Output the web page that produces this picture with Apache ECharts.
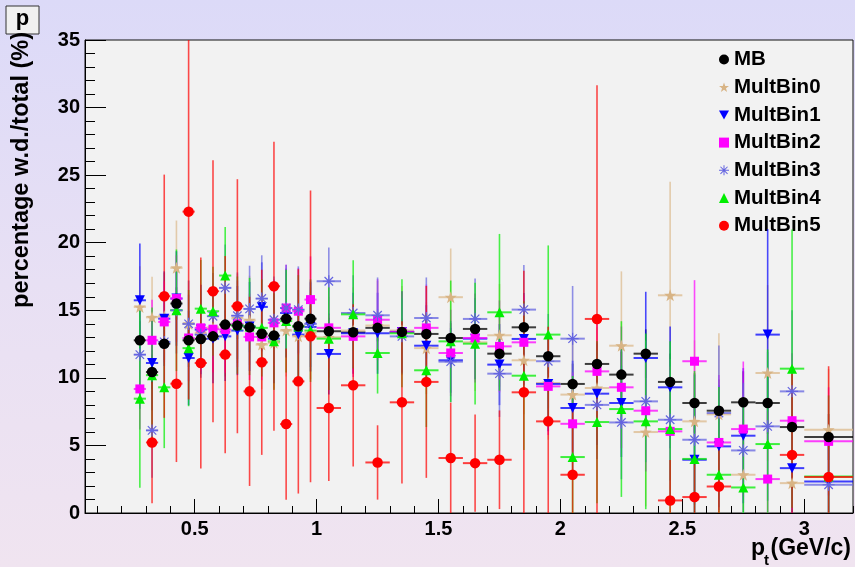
<!DOCTYPE html>
<html>
<head>
<meta charset="utf-8">
<script src="https://cdn.jsdelivr.net/npm/echarts@6/dist/echarts.min.js"></script>
<style>
html,body{margin:0;padding:0;}
body{background:linear-gradient(to bottom,#dcdaf8 0%,#e8e0f4 50%,#f0e4f0 100%);}
#c{width:855px;height:567px;}
</style>
</head>
<body>
<div id="c"></div>
<script>
// bin centres and edges (GeV/c)
const ptCenters = [0.275,0.325,0.375,0.425,0.475,0.525,0.575,0.625,0.675,0.725,0.775,0.825,0.875,0.925,0.975,
  1.05,1.15,1.25,1.35,1.45,1.55,1.65,1.75,1.85,1.95,2.05,2.15,2.25,2.35,2.45,2.55,2.65,2.75,2.85,2.95,3.1];
const ptLow = [0.25,0.3,0.35,0.4,0.45,0.5,0.55,0.6,0.65,0.7,0.75,0.8,0.85,0.9,0.95,
  1.0,1.1,1.2,1.3,1.4,1.5,1.6,1.7,1.8,1.9,2.0,2.1,2.2,2.3,2.4,2.5,2.6,2.7,2.8,2.9,3.0];
const ptHigh = [0.3,0.35,0.4,0.45,0.5,0.55,0.6,0.65,0.7,0.75,0.8,0.85,0.9,0.95,1.0,
  1.1,1.2,1.3,1.4,1.5,1.6,1.7,1.8,1.9,2.0,2.1,2.2,2.3,2.4,2.5,2.6,2.7,2.8,2.9,3.0,3.2];

const mbVals = [12.78,10.43,12.53,15.5,12.78,12.88,13.07,13.94,13.87,13.74,13.27,13.13,14.38,13.82,14.38,
  13.45,13.37,13.7,13.4,13.25,12.95,13.62,11.79,13.74,11.6,9.55,11.03,10.24,11.79,9.7,8.14,7.57,8.19,8.14,6.36,5.62];
const mbErr = [1.4,1.3,1.2,1.2,1.1,1.0,1.0,1.0,1.0,1.0,1.0,1.0,1.0,1.0,1.0,
  1.0,1.0,1.0,1.0,1.1,1.1,1.1,1.2,1.2,1.3,1.5,1.5,1.7,1.8,2.1,2.2,2.3,2.3,2.3,2.4,1.7];

const mb0Vals = [15.25,14.48,14.56,18.14,14.0,13.3,13.7,13.4,14.4,14.26,12.46,12.6,13.5,13.07,13.3,
  13.0,13.5,13.87,13.5,12.2,15.97,12.63,13.15,11.3,9.62,8.76,9.25,12.38,5.99,16.11,6.78,7.3,2.83,10.36,2.21,6.16];
const mb0Err = [3.0,3.0,3.2,3.5,3.2,3.3,3.3,3.3,3.3,3.3,3.3,3.4,3.4,3.4,3.4,
  3.0,3.2,3.3,3.3,3.4,3.6,3.6,3.8,4.0,4.2,4.2,4.5,5.5,5.5,8.4,6.0,6.0,6.0,6.5,6.5,4.5];

const mb1Vals = [15.74,11.1,14.38,15.87,11.47,13.57,12.9,13.07,13.5,13.8,15.25,12.9,14.8,13.2,13.77,
  11.77,13.3,13.3,13.4,12.38,11.3,12.9,10.98,12.88,9.55,7.77,8.83,8.14,11.47,9.3,3.94,4.93,5.72,13.2,3.32,2.33];
const mb1Err = [4.2,3.5,3.5,3.5,3.5,3.3,3.3,3.3,3.3,3.3,3.3,3.3,3.3,3.3,3.3,
  3.0,3.0,3.0,3.0,3.0,2.4,3.0,3.0,3.4,3.5,3.5,3.8,4.0,4.9,4.5,4.5,4.5,5.0,7.8,5.5,3.0];

const mb2Vals = [9.18,12.78,14.14,15.87,12.95,13.7,13.6,13.57,14.0,13.03,13.03,14.07,15.17,14.93,15.79,
  13.7,13.07,14.3,13.4,13.7,11.84,12.95,12.33,12.63,9.37,6.6,10.48,9.3,7.57,6.04,11.23,5.22,6.21,2.51,6.83,5.3];
const mb2Err = [3.0,3.0,3.0,3.2,3.2,3.2,3.2,3.2,3.2,3.2,3.2,3.2,3.2,3.2,3.2,
  3.0,3.0,3.0,3.0,3.2,3.2,3.3,3.4,3.5,3.6,3.8,4.0,4.5,4.5,4.8,6.0,5.0,5.0,5.0,5.0,4.0];

const mb3Vals = [11.72,6.11,12.66,15.0,14.0,13.2,14.56,16.66,14.6,15.1,15.87,14.3,15.17,15.05,14.0,
  17.15,14.8,14.63,13.07,14.43,11.2,14.36,10.31,15.05,11.23,12.9,8.0,6.7,8.26,6.9,5.42,7.4,4.63,6.41,9.0,2.09];
const mb3Err = [4.0,3.5,3.3,3.2,3.2,3.2,3.2,3.2,3.2,3.2,3.2,3.2,3.2,3.2,3.2,
  2.5,2.8,2.8,2.8,3.0,3.0,3.0,3.2,3.3,3.5,3.9,4.0,4.2,4.5,4.5,4.8,5.0,5.0,5.5,6.0,4.0];

const mb4Vals = [8.46,10.2,9.3,15.0,12.2,15.12,14.93,17.57,13.9,13.8,13.7,12.7,14.2,13.8,13.5,
  12.9,14.7,11.84,13.3,10.56,12.7,12.53,14.85,10.16,13.2,4.14,6.73,7.69,6.78,6.21,4.0,2.83,1.89,5.1,10.68,2.7];
const mb4Err = [6.6,5.0,4.5,4.5,4.3,3.6,3.3,3.6,3.6,3.6,3.6,3.6,3.8,3.8,3.8,
  3.8,4.0,3.0,4.0,4.2,4.5,4.5,5.8,5.5,6.6,6.0,6.0,6.5,6.5,6.5,6.5,6.5,6.5,7.0,10.3,6.0];

const mb5Vals = [null,5.22,16.04,9.57,22.3,11.1,16.41,11.72,15.3,9.0,11.15,16.78,6.58,9.74,13.07,
  7.77,9.45,3.74,8.19,9.7,4.07,3.69,3.94,8.93,6.78,2.83,14.36,null,null,0.93,1.18,1.96,null,null,4.3,2.66];
const mb5Err = [0,4.5,9.0,5.8,13.9,7.8,9.7,7.3,9.4,7.0,6.85,10.7,5.6,8.3,10.8,
  5.4,6.0,2.75,6.0,7.1,4.1,3.6,3.65,9.0,7.0,5.0,17.3,0,0,3.0,3.0,3.0,0,0,6.0,8.2];

const seriesNames = ['MB','MultBin0','MultBin1','MultBin2','MultBin3','MultBin4','MultBin5'];
const xMajorTicks = [0.5,1,1.5,2,2.5,3];
const xMinorTicks = [0.1,0.2,0.3,0.4,0.6,0.7,0.8,0.9,1.1,1.2,1.3,1.4,1.6,1.7,1.8,1.9,2.1,2.2,2.3,2.4,2.6,2.7,2.8,2.9,3.1,3.2];

const STAR = 'path://M0,-10 L2.35,-3.24 L9.51,-3.09 L3.8,1.24 L5.88,8.09 L0,4 L-5.88,8.09 L-3.8,1.24 L-9.51,-3.09 L-2.35,-3.24 Z';
const DOWN = 'path://M-5,-4 L5,-4 L0,5 Z';
const AST = 'path://M-10,-1 L10,-1 L10,1 L-10,1 Z M-1,-10 L1,-10 L1,10 L-1,10 Z M-6.36,-7.78 L7.78,6.36 L6.36,7.78 L-7.78,-6.36 Z M-7.78,6.36 L6.36,-7.78 L7.78,-6.36 L-6.36,7.78 Z';

const defs = [
  {name:'MB', vals:mbVals, errs:mbErr, color:'#000000', err:'#000000', symbol:'circle', size:10.5, z:20},
  {name:'MultBin0', vals:mb0Vals, errs:mb0Err, color:'#d8b485', err:'#dcb98c', symbol:STAR, size:12, z:11},
  {name:'MultBin1', vals:mb1Vals, errs:mb1Err, color:'#0000ff', err:'#0000ff', symbol:DOWN, size:10, z:12},
  {name:'MultBin2', vals:mb2Vals, errs:mb2Err, color:'#ff00ff', err:'#ff00ff', symbol:'rect', size:9, z:13},
  {name:'MultBin3', vals:mb3Vals, errs:mb3Err, color:'#6464e0', err:'#6464e0', symbol:AST, size:12, z:14},
  {name:'MultBin4', vals:mb4Vals, errs:mb4Err, color:'#00ee00', err:'#00ee00', symbol:'triangle', size:10, z:15},
  {name:'MultBin5', vals:mb5Vals, errs:mb5Err, color:'#ff0000', err:'#ff0000', symbol:'circle', size:10.5, z:16}
];

const FONT = '"Liberation Sans", Arial, Helvetica, sans-serif';
const series = [];
defs.forEach((d, k) => {
  const errData = [];
  const ptData = [];
  d.vals.forEach((v, i) => {
    if (v == null) return;
    errData.push([ptCenters[i], v, d.errs[i], ptLow[i], ptHigh[i]]);
    ptData.push([ptCenters[i], v]);
  });
  series.push({
    type:'custom', name:d.name + ' err', silent:true, clip:true, z:2 + k,
    data:errData, encode:{x:0, y:1},
    renderItem:(params, api) => {
      const x = api.value(0), y = api.value(1), e = api.value(2), lo = api.value(3), hi = api.value(4);
      const top = Math.min(35, y + e), bot = Math.max(0, y - e);
      const p1 = api.coord([x, top]), p2 = api.coord([x, bot]);
      const h1 = api.coord([lo, y]), h2 = api.coord([hi, y]);
      return {type:'group', children:[
        {type:'line', shape:{x1:p1[0], y1:p1[1], x2:p2[0], y2:p2[1]}, style:{stroke:d.err, lineWidth:1.6, opacity:0.7}},
        {type:'line', shape:{x1:h1[0], y1:h1[1], x2:h2[0], y2:h2[1]}, style:{stroke:d.err, lineWidth:2, opacity:0.75}}
      ]};
    }
  });
  series.push({
    type:'scatter', name:d.name, data:ptData, symbol:d.symbol, symbolSize:d.size, z:d.z,
    itemStyle:{color:d.color, opacity:1}, emphasis:{disabled:true}
  });
});

const chart = echarts.init(document.getElementById('c'), null, {renderer:'canvas'});
chart.setOption({
  backgroundColor:'transparent',
  animation:false,
  textStyle:{fontFamily:FONT},
  grid:{left:85, top:40, right:2, bottom:54, show:true, backgroundColor:'#f2f2f2', borderColor:'#111', borderWidth:1},
  legend:{
    orient:'vertical', left:714, top:44, itemGap:6.7, itemWidth:10, itemHeight:10,
    textStyle:{fontSize:20.5, fontWeight:'bold', color:'#000', fontFamily:FONT, lineHeight:20},
    selectedMode:false,
    data:defs.map(d => ({name:d.name, icon:d.symbol}))
  },
  xAxis:[
    {type:'value', min:0.05, max:3.2, position:'bottom',
     axisLine:{show:true, onZero:false, lineStyle:{color:'#000', width:1}},
     axisTick:{show:true, inside:true, length:14, customValues:xMajorTicks, lineStyle:{color:'#000'}},
     axisLabel:{show:true, customValues:xMajorTicks, fontSize:20, fontWeight:'bold', color:'#000', margin:6, fontFamily:FONT,
       formatter:v => String(v)},
     splitLine:{show:false}},
    {type:'value', min:0.05, max:3.2, position:'bottom',
     axisLine:{show:false},
     axisTick:{show:true, inside:true, length:7, customValues:xMinorTicks, lineStyle:{color:'#000'}},
     axisLabel:{show:false}, splitLine:{show:false}}
  ],
  yAxis:{type:'value', min:0, max:35, interval:5,
    axisLine:{show:true, lineStyle:{color:'#000', width:1}},
    axisTick:{show:true, inside:true, length:21, lineStyle:{color:'#000'}},
    minorTick:{show:true, splitNumber:5, length:10, lineStyle:{color:'#000'}},
    axisLabel:{fontSize:20, fontWeight:'bold', color:'#000', margin:5, fontFamily:FONT},
    splitLine:{show:false}},
  graphic:[
    {type:'rect', shape:{x:6, y:6, width:33, height:28}, style:{fill:'#f0f0f0', stroke:'#333', lineWidth:1}, z:100},
    {type:'text', x:22.5, y:19, style:{text:'p', font:'bold 22px ' + FONT, fill:'#000', align:'center', verticalAlign:'middle'}, z:101},
    {type:'text', x:22, y:32, rotation:Math.PI/2,
     style:{text:'percentage w.d./total (%)', font:'bold 23.5px ' + FONT, fill:'#000', align:'right', verticalAlign:'middle'}, z:100},
    {type:'text', x:751, y:549, style:{text:'p', font:'bold 23px ' + FONT, fill:'#000', align:'left', verticalAlign:'middle'}, z:100},
    {type:'text', x:764, y:561, style:{text:'t', font:'bold 15px ' + FONT, fill:'#000', align:'left', verticalAlign:'middle'}, z:100},
    {type:'text', x:851, y:549, style:{text:'(GeV/c)', font:'bold 23px ' + FONT, fill:'#000', align:'right', verticalAlign:'middle'}, z:100}
  ],
  series:series
});
</script>
</body>
</html>
